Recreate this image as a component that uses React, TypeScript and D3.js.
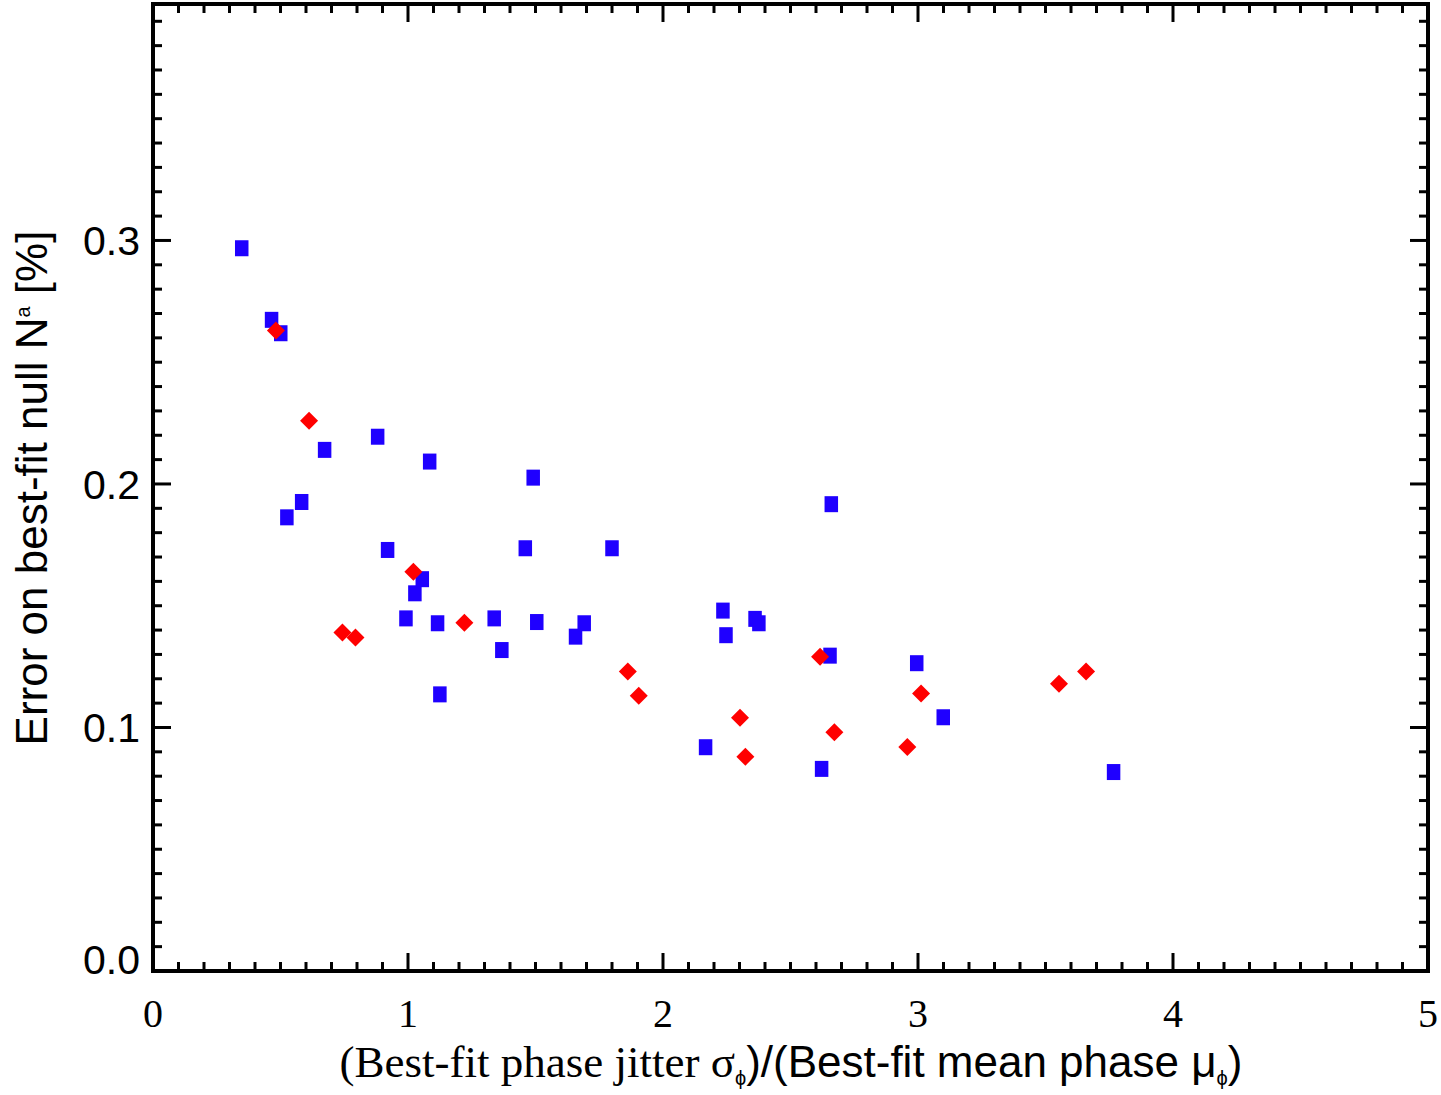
import React from "react";
import * as d3 from "d3";

// blue squares
const blueX = [0.348, 0.465, 0.501, 0.525, 0.583, 0.673, 0.881, 0.92, 0.992, 1.027, 1.056, 1.085, 1.116, 1.125, 1.338, 1.368, 1.46, 1.491, 1.505, 1.657, 1.691, 1.8, 2.167, 2.235, 2.247, 2.361, 2.376, 2.622, 2.655, 2.66, 2.995, 3.099, 3.767];
const blueY = [0.2968, 0.2674, 0.2619, 0.1863, 0.1926, 0.214, 0.2194, 0.1729, 0.1448, 0.1551, 0.1609, 0.2092, 0.1428, 0.1136, 0.1448, 0.1318, 0.1736, 0.2026, 0.1433, 0.1373, 0.1428, 0.1736, 0.0919, 0.148, 0.1379, 0.1446, 0.1428, 0.083, 0.1295, 0.1917, 0.1264, 0.1042, 0.0817];
// red diamonds
const redX = [0.482, 0.612, 0.743, 0.794, 1.021, 1.221, 1.862, 1.905, 2.302, 2.323, 2.616, 2.672, 2.958, 3.012, 3.553, 3.659];
const redY = [0.263, 0.226, 0.139, 0.137, 0.164, 0.143, 0.123, 0.113, 0.104, 0.088, 0.129, 0.098, 0.092, 0.114, 0.118, 0.123];

const xTickValues = [0, 1, 2, 3, 4, 5];
const yTickValues = [0, 0.1, 0.2, 0.3];
const yTickLabels = ["0.0", "0.1", "0.2", "0.3"];

const App = () => {
  const svgRef = React.useRef<SVGSVGElement>(null);

  React.useEffect(() => {
    const svg = d3.select(svgRef.current);
    svg.selectAll("*").remove();

    const box = { left: 153, right: 1428, top: 4, bottom: 971 };
    const x = d3.scaleLinear().domain([0, 5]).range([box.left, box.right]);
    const y = d3.scaleLinear().domain([0, 0.3971]).range([box.bottom, box.top]);

    const blue = blueX.map((d, i) => ({ x: d, y: blueY[i] }));
    const red = redX.map((d, i) => ({ x: d, y: redY[i] }));

    // ticks on all four sides, minor every 0.1 (x) / 0.01 (y)
    const ticks = svg.append("g").attr("stroke", "#000").attr("stroke-width", 3);
    const xMinor = d3.range(1, 50).map((i) => ({ v: i / 10, major: i % 10 === 0 }));
    const yMinor = d3
      .range(1, 40)
      .map((i) => ({ v: i / 100, major: i % 10 === 0 }))
      .filter((d) => y(d.v) > box.top + 2);
    xMinor.forEach((t) => {
      const len = t.major ? 18 : 9;
      ticks.append("line").attr("x1", x(t.v)).attr("x2", x(t.v)).attr("y1", box.bottom).attr("y2", box.bottom - len);
      ticks.append("line").attr("x1", x(t.v)).attr("x2", x(t.v)).attr("y1", box.top).attr("y2", box.top + len);
    });
    yMinor.forEach((t) => {
      const len = t.major ? 18 : 9;
      ticks.append("line").attr("y1", y(t.v)).attr("y2", y(t.v)).attr("x1", box.left).attr("x2", box.left + len);
      ticks.append("line").attr("y1", y(t.v)).attr("y2", y(t.v)).attr("x1", box.right).attr("x2", box.right - len);
    });

    // frame
    svg
      .append("rect")
      .attr("x", box.left)
      .attr("y", box.top)
      .attr("width", box.right - box.left)
      .attr("height", box.bottom - box.top)
      .attr("fill", "none")
      .attr("stroke", "#000")
      .attr("stroke-width", 4);

    // blue squares first, red diamonds on top
    svg
      .append("g")
      .selectAll("rect")
      .data(blue)
      .enter()
      .append("rect")
      .attr("x", (d) => x(d.x) - 6.75)
      .attr("y", (d) => y(d.y) - 8)
      .attr("width", 13.5)
      .attr("height", 16)
      .attr("fill", "#1f00ff");
    svg
      .append("g")
      .selectAll("path")
      .data(red)
      .enter()
      .append("path")
      .attr("transform", (d) => `translate(${x(d.x)},${y(d.y)})`)
      .attr("d", "M0,-9L9,0L0,9L-9,0Z")
      .attr("fill", "#ff0000");

    // x tick labels (serif)
    svg
      .append("g")
      .selectAll("text")
      .data(xTickValues)
      .enter()
      .append("text")
      .attr("x", (d) => x(d))
      .attr("y", 1027)
      .attr("text-anchor", "middle")
      .style("font-family", "'Liberation Serif', serif")
      .style("font-size", "40px")
      .text((d) => String(d));

    // y tick labels (sans)
    svg
      .append("g")
      .selectAll("text")
      .data(yTickValues)
      .enter()
      .append("text")
      .attr("x", 140)
      .attr("y", (d) => (d === 0 ? 959 : y(d)))
      .attr("dy", "0.36em")
      .attr("text-anchor", "end")
      .style("font-family", "'Liberation Sans', sans-serif")
      .style("font-size", "41px")
      .text((d, i) => yTickLabels[i]);

    // x title, mixed fonts like the original
    const xt = svg
      .append("text")
      .attr("x", 791)
      .attr("y", 1077)
      .attr("text-anchor", "middle");
    xt.append("tspan").style("font-family", "'Liberation Serif', serif").style("font-size", "45px").text("(Best-fit phase jitter σ");
    xt.append("tspan").style("font-family", "'Liberation Sans', sans-serif").style("font-size", "20px").attr("dy", 8).text("ϕ");
    xt.append("tspan").style("font-family", "'Liberation Sans', sans-serif").style("font-size", "44px").attr("dy", -8).text(")/(Best-fit mean phase μ");
    xt.append("tspan").style("font-family", "'Liberation Sans', sans-serif").style("font-size", "20px").attr("dy", 8).text("ϕ");
    xt.append("tspan").style("font-family", "'Liberation Sans', sans-serif").style("font-size", "44px").attr("dy", -8).text(")");

    // y title
    const yt = svg
      .append("text")
      .attr("transform", "translate(47,488) rotate(-90)")
      .attr("text-anchor", "middle")
      .style("font-family", "'Liberation Sans', sans-serif")
      .style("font-size", "44px");
    yt.append("tspan").text("Error on best-fit null N");
    yt.append("tspan").style("font-size", "20px").attr("dy", -17).text("a");
    yt.append("tspan").attr("dy", 17).text(" [%]");
  }, []);

  return (
    <svg
      ref={svgRef}
      width={1441}
      height={1095}
      style={{ position: "absolute", left: 0, top: 0, background: "#fff" }}
    />
  );
};

export default App;
